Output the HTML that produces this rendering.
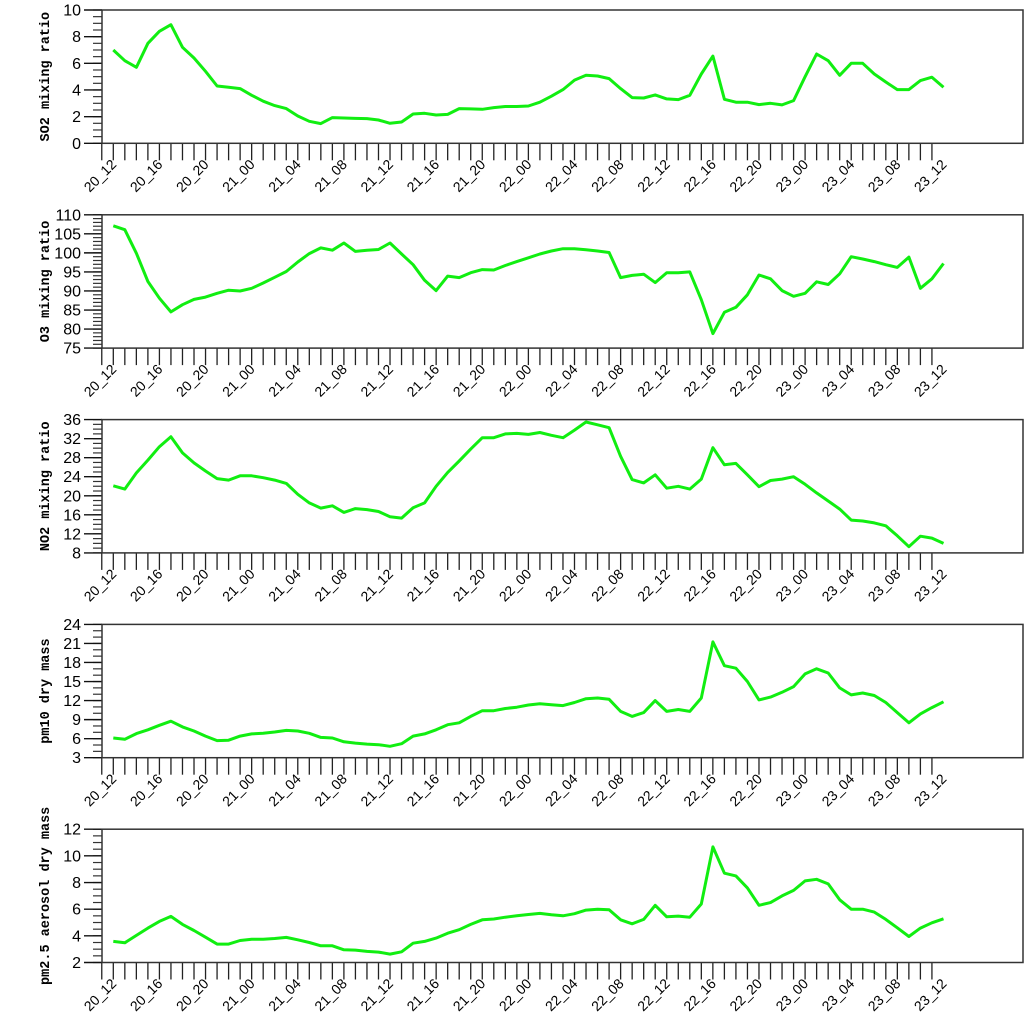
<!DOCTYPE html>
<html><head><meta charset="utf-8"><style>
html,body{margin:0;padding:0;background:#fff;}
svg{display:block;}
</style></head><body>
<svg id="chart" xmlns="http://www.w3.org/2000/svg" width="1024" height="1024" viewBox="0 0 1024 1024"></svg>
<script>
const timeLabels = ["20_12","20_16","20_20","21_00","21_04","21_08","21_12","21_16","21_20","22_00","22_04","22_08","22_12","22_16","22_20","23_00","23_04","23_08","23_12"];
const titles = ["SO2 mixing ratio","O3 mixing ratio","NO2 mixing ratio","pm10 dry mass","pm2.5 aerosol dry mass"];
const so2 = [7.0,6.2,5.7,7.5,8.4,8.9,7.2,6.4,5.4,4.3,4.2,4.1,3.6,3.16,2.83,2.6,2.05,1.65,1.48,1.93,1.9,1.87,1.85,1.75,1.5,1.6,2.2,2.25,2.12,2.17,2.6,2.58,2.55,2.68,2.76,2.76,2.8,3.08,3.53,4.03,4.74,5.11,5.05,4.85,4.1,3.43,3.4,3.63,3.33,3.28,3.6,5.2,6.54,3.3,3.08,3.08,2.9,3.0,2.88,3.2,5.0,6.7,6.2,5.1,6.0,6.0,5.2,4.6,4.03,4.03,4.7,4.96,4.2];
const o3 = [107.1,106.1,99.9,92.5,88.1,84.5,86.4,87.8,88.4,89.4,90.2,90.0,90.7,92.1,93.6,95.1,97.6,99.8,101.3,100.7,102.6,100.4,100.7,100.9,102.6,99.7,96.9,92.8,90.1,93.9,93.5,94.8,95.6,95.5,96.7,97.7,98.7,99.7,100.5,101.1,101.1,100.8,100.5,100.1,93.5,94.1,94.4,92.2,94.8,94.8,95.0,87.7,78.8,84.4,85.7,89.0,94.2,93.2,90.1,88.6,89.4,92.4,91.7,94.5,99.0,98.4,97.7,96.9,96.2,98.9,90.7,93.2,97.2];
const no2 = [22.1,21.4,24.8,27.5,30.3,32.4,29.0,26.9,25.2,23.6,23.3,24.2,24.2,23.8,23.3,22.6,20.3,18.5,17.4,17.9,16.5,17.3,17.1,16.7,15.6,15.3,17.5,18.5,22.0,24.9,27.3,29.8,32.2,32.2,33.0,33.1,32.9,33.3,32.7,32.2,33.8,35.5,34.9,34.3,28.3,23.4,22.7,24.4,21.6,22.0,21.4,23.5,30.1,26.5,26.8,24.4,21.9,23.2,23.5,24.0,22.4,20.6,18.9,17.2,14.9,14.7,14.3,13.7,11.6,9.3,11.5,11.1,10.0];
const pm10 = [6.1,5.9,6.8,7.4,8.1,8.75,7.85,7.2,6.4,5.7,5.75,6.4,6.75,6.85,7.05,7.3,7.2,6.85,6.2,6.1,5.5,5.3,5.15,5.05,4.8,5.2,6.4,6.75,7.4,8.2,8.5,9.5,10.4,10.4,10.75,10.95,11.3,11.5,11.35,11.2,11.7,12.3,12.4,12.2,10.3,9.5,10.1,12.0,10.3,10.6,10.3,12.4,21.25,17.5,17.1,15.0,12.1,12.55,13.3,14.2,16.2,17.0,16.35,14.0,12.9,13.2,12.8,11.7,10.1,8.5,9.9,10.9,11.8];
const pm25 = [3.58,3.48,4.03,4.58,5.08,5.46,4.86,4.4,3.9,3.38,3.38,3.65,3.75,3.75,3.8,3.88,3.7,3.5,3.25,3.25,2.95,2.93,2.83,2.78,2.63,2.8,3.45,3.58,3.83,4.2,4.46,4.86,5.2,5.26,5.4,5.5,5.6,5.68,5.58,5.5,5.66,5.93,6.0,5.96,5.2,4.9,5.23,6.29,5.43,5.48,5.4,6.39,10.67,8.7,8.5,7.6,6.29,6.49,7.0,7.41,8.12,8.24,7.9,6.7,6.0,6.0,5.78,5.23,4.6,3.95,4.58,4.98,5.28];
const yMins = [0,75,8,3,2];
const yMaxs = [10,110,36,24,12];
const yMajorSteps = [2,5,4,3,2];
const yMinorSteps = [0.5,1,1,1,0.5];
const series = [so2,o3,no2,pm10,pm25];

const svg = document.getElementById('chart');
const NS = 'http://www.w3.org/2000/svg';
const X0 = 102, X1 = 1023;
const x = h => 113.3 + 11.53 * h;
function mk(tag, attrs, parent){
  const e = document.createElementNS(NS, tag);
  for (const k in attrs) e.setAttribute(k, attrs[k]);
  (parent||svg).appendChild(e);
  return e;
}
series.forEach((data, p) => {
  const top = 10 + 204.8 * p, bot = top + 133.3;
  const y = v => bot - (v - yMins[p]) / (yMaxs[p] - yMins[p]) * (bot - top);
  const g = mk('g', {});
  
  
  // x ticks
  for (let h = -1; h <= 71; h++) {
    const t = mk('line', {x1:x(h), x2:x(h), y1:bot, y2:bot+17, stroke:'#222', 'stroke-width':1.3}, g);
    
    
  }
  timeLabels.forEach((lab, i) => {
    const xx = x(i*4) + 4, yy = bot + 22;
    const t = mk('text', {x:xx, y:yy, 'text-anchor':'end', transform:`rotate(-45 ${xx} ${yy})`,
      'font-family':'Liberation Sans, sans-serif', 'font-size':14, fill:'#000'}, g);
    t.textContent = lab;
    
    
  });
  // y minor ticks
  const nMin = Math.round((yMaxs[p]-yMins[p])/yMinorSteps[p]);
  for (let i = 0; i <= nMin; i++) {
    const v = yMins[p] + i*yMinorSteps[p];
    const t = mk('line', {x1:93, x2:X0, y1:y(v), y2:y(v), stroke:'#333', 'stroke-width':1.2}, g);
    
    
  }
  const nMaj = Math.round((yMaxs[p]-yMins[p])/yMajorSteps[p]);
  for (let i = 0; i <= nMaj; i++) {
    const v = yMins[p] + i*yMajorSteps[p];
    const t = mk('line', {x1:84, x2:X0, y1:y(v), y2:y(v), stroke:'#111', 'stroke-width':1.4}, g);
    
    
    const l = mk('text', {x:81, y:y(v)+5.5, 'text-anchor':'end', 'font-family':'Liberation Sans, sans-serif', 'font-size':16, fill:'#000'}, g);
    l.textContent = v;
    
    
  }
  const cy = (top+bot)/2;
  const tt = mk('text', {x:49, y:cy, 'text-anchor':'middle', transform:`rotate(-90 49 ${cy})`,
    'font-family':'Liberation Mono, monospace', 'font-weight':'bold', 'font-size':13.5, fill:'#000'}, g);
  tt.textContent = titles[p];
  
  
  const fr = mk('rect', {x:X0, y:top, width:X1-X0, height:bot-top, fill:'none', stroke:'#333', 'stroke-width':1.5}, g);
  
  
  const pts = data.map((v,h) => x(h).toFixed(1)+','+y(v).toFixed(1)).join(' ');
  const ln = mk('polyline', {points:pts, fill:'none', stroke:'#11ee11', 'stroke-width':3, 'stroke-linejoin':'round'}, g);
  
  
});
</script>
</body></html>
